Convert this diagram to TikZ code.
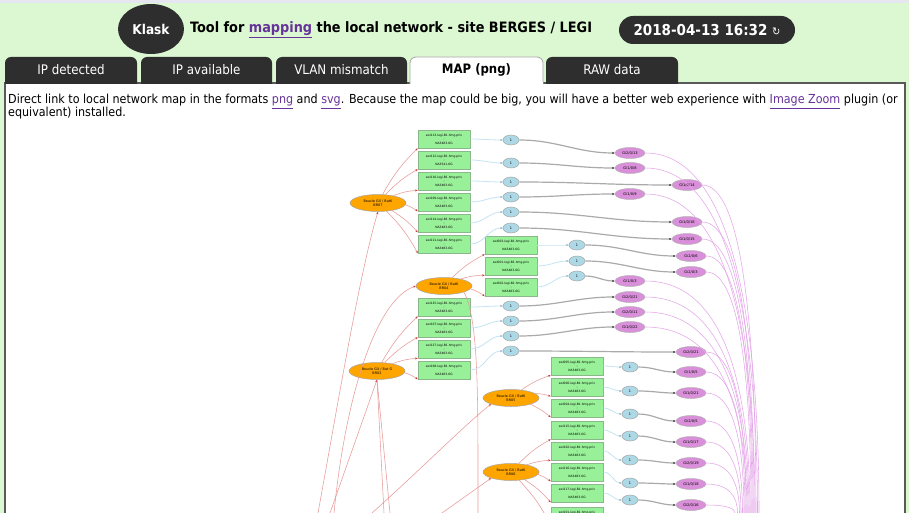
\documentclass[tikz,border=0pt]{standalone}
\usepackage{fontspec}
\setmainfont{DejaVu Sans Condensed}
\newfontfamily\graphfont{DejaVu Sans}
\usetikzlibrary{shapes.geometric,arrows.meta,calc}
\definecolor{hdrgreen}{HTML}{DCF8D2}
\definecolor{topstrip}{HTML}{E6E6F0}
\definecolor{darkbg}{HTML}{2E2E2E}
\definecolor{linkc}{HTML}{663399}
\definecolor{swfill}{HTML}{98F098}
\definecolor{swdraw}{HTML}{8AB88A}
\definecolor{loopfill}{HTML}{FFA500}
\definecolor{onefill}{HTML}{ADD8E6}
\definecolor{portfill}{HTML}{D98FD9}
\definecolor{rededge}{HTML}{E89A9A}
\definecolor{redtip}{HTML}{CC3333}
\definecolor{blueedge}{HTML}{C4E4F2}
\definecolor{grayedge}{HTML}{AAAAAA}
\definecolor{pinkedge}{HTML}{E4A6E8}
\tikzset{
  tabbox/.style={fill=darkbg},
  tablabel/.style={text=white,font=\fontsize{13.2}{15}\selectfont,inner sep=0},
  swbox/.style={rectangle,draw=swdraw,fill=swfill,line width=0.6pt,minimum width=52pt,minimum height=18pt,inner sep=0pt,align=center,font=\graphfont\fontsize{3}{3.9}\selectfont},
  loopnode/.style={ellipse,draw=gray!70,fill=loopfill,line width=0.5pt,minimum width=56pt,minimum height=17pt,inner sep=0pt,align=center,font=\graphfont\fontsize{3.4}{4}\selectfont},
  onenode/.style={ellipse,draw=gray!70,fill=onefill,line width=0.5pt,minimum width=16pt,minimum height=10pt,inner sep=0pt,font=\graphfont\fontsize{3.4}{4}\selectfont},
  portnode/.style={ellipse,draw=gray!60,fill=portfill,line width=0.5pt,minimum width=30pt,minimum height=11pt,inner sep=0pt,font=\graphfont\fontsize{3.6}{4}\selectfont},
  redarrow/.style={draw=rededge,line width=0.55pt,-{Stealth[length=2.6pt,width=2pt,color=redtip]}},
  redline/.style={draw=rededge,line width=0.55pt},
  bluearrow/.style={draw=blueedge,line width=0.8pt,-{Stealth[length=2.6pt,width=2pt,color=onefill!80!black]}},
  grayarrow/.style={draw=grayedge,line width=1.2pt,-{Stealth[length=2.8pt,width=2.4pt,color=black!75]}},
  pinkline/.style={draw=pinkedge,line width=0.55pt},
}
\begin{document}
\begin{tikzpicture}[x=1pt,y=-1pt]
\useasboundingbox (0,0) rectangle (909,513);
% header background
\fill[hdrgreen] (0,0) rectangle (909,513);
\fill[topstrip] (0,0) rectangle (909,3);
% Klask logo
\fill[darkbg] (151,29) ellipse [x radius=33, y radius=25];
\node[text=white,font=\bfseries\fontsize{13.5}{15}\selectfont,inner sep=0] (klask) at (151,29) {Klask};
\node[anchor=west,font=\bfseries\fontsize{14.3}{16}\selectfont,inner sep=0] (title) at (190,30) {Tool for \textcolor{linkc}{\underline{mapping}} the local network - site BERGES / LEGI};
% date
\fill[darkbg,rounded corners=14pt] (619,16) rectangle (795,44);
\node[text=white,font=\bfseries\fontsize{15}{16}\selectfont,inner sep=0] (date) at (707,30) {2018-04-13 16:32 {\mdseries\fontsize{11}{12}\selectfont ↻}};
% content panel
\fill[white] (5,83) rectangle (905,520);
\draw[black!65,line width=1.4pt] (5,520) -- (5,83) -- (905,83) -- (905,520);
% tabs
\fill[tabbox,rounded corners=6pt] (5,84) -- (5,57) -- (137,57) -- (137,84);
\fill[tabbox,rounded corners=6pt] (141,84) -- (141,57) -- (272,57) -- (272,84);
\fill[tabbox,rounded corners=6pt] (276,84) -- (276,57) -- (407,57) -- (407,84);
\filldraw[fill=white,draw=black!35,line width=0.8pt,rounded corners=6pt] (410,84) -- (410,57) -- (543,57) -- (543,84);
\fill[white] (410.5,82) rectangle (542.5,85);
\fill[tabbox,rounded corners=6pt] (546,84) -- (546,57) -- (678,57) -- (678,84);
\node[tablabel] (t1) at (71,70) {IP detected};
\node[tablabel] (t2) at (206.5,70) {IP available};
\node[tablabel] (t3) at (341.5,70) {VLAN mismatch};
\node[tablabel,text=black,font=\bfseries\fontsize{13}{15}\selectfont] (t4) at (476.5,70) {MAP (png)};
\node[tablabel] (t5) at (612,70) {RAW data};
% intro text
\node[anchor=base west,inner sep=0,font=\fontsize{12.4}{14}\selectfont] (line1) at (8,104) {Direct link to local network map in the formats \textcolor{linkc}{\underline{png}} and \textcolor{linkc}{\underline{svg}}. Because the map could be big, you will have a better web experience with \textcolor{linkc}{\underline{Image Zoom}} plugin (or};
\node[anchor=base west,inner sep=0,font=\fontsize{12.4}{14}\selectfont] (line2) at (8,117) {equivalent) installed.};

\begin{scope}
\clip (6,122) rectangle (904,513);
% loops
\node[loopnode] (br07) at (378,203) {Boucle GX / BatK\\BR07};
\node[loopnode] (br04) at (444,286) {Boucle GX / BatK\\BR04};
\node[loopnode] (br02) at (377,371) {Boucle GX / Bat G\\BR02};
\node[loopnode] (br05) at (511,398) {Boucle GX / BatK\\BR05};
\node[loopnode] (br06) at (511,472) {Boucle GX / BatK\\BR06};
% switches column A
\node[swbox] (a1) at (444,139) {swl113-legi-B1.hmg.priv\\:\\NA3483-6G};
\node[swbox] (a2) at (444,160) {swl112-legi-B1.hmg.priv\\:\\NA3541-6G};
\node[swbox] (a3) at (444,181) {swl110-legi-B1.hmg.priv\\:\\NA3483-6G};
\node[swbox] (a4) at (444,202) {swl109-legi-B1.hmg.priv\\:\\NA3483-6G};
\node[swbox] (a5) at (444,223) {swl114-legi-B1.hmg.priv\\:\\NA3483-6G};
\node[swbox] (a6) at (444,244) {swl111-legi-B1.hmg.priv\\:\\NA3483-6G};
\node[swbox] (a7) at (444,307) {swl125-legi-B1.hmg.priv\\:\\NA3483-6G};
\node[swbox] (a8) at (444,328) {swl107-legi-B1.hmg.priv\\:\\NA3483-6G};
\node[swbox] (a9) at (444,349) {swl127-legi-B1.hmg.priv\\:\\NA3483-6G};
\node[swbox] (a10) at (444,370) {swl108-legi-B1.hmg.priv\\:\\NA3483-6G};
% column B
\node[swbox] (b1) at (511,245) {swl003-legi-B1.hmg.priv\\:\\NA3483-6G};
\node[swbox] (b2) at (511,266) {swl001-legi-B1.hmg.priv\\:\\NA3483-6G};
\node[swbox] (b3) at (511,287) {swl002-legi-B1.hmg.priv\\:\\NA3483-6G};
% column C
\node[swbox] (c1) at (577,366) {swl005-legi-B1.hmg.priv\\:\\NA3483-6G};
\node[swbox] (c2) at (577,387) {swl006-legi-B1.hmg.priv\\:\\NA3483-6G};
\node[swbox] (c3) at (577,408) {swl004-legi-B1.hmg.priv\\:\\NA3483-6G};
\node[swbox] (c4) at (577,430) {swl115-legi-B1.hmg.priv\\:\\NA3483-6G};
\node[swbox] (c5) at (577,451) {swl102-legi-B1.hmg.priv\\:\\NA3483-6G};
\node[swbox] (c6) at (577,472) {swl116-legi-B1.hmg.priv\\:\\NA3483-6G};
\node[swbox] (c7) at (577,493) {swl117-legi-B1.hmg.priv\\:\\NA3483-6G};
\node[swbox] (c8) at (577,516) {swl101-legi-B1.hmg.priv\\:\\NA3483-6G};
% "1" nodes
\foreach \n/\x/\y in {o1/511/140,o2/511/163,o3/511/182,o4/511/197,o5/511/212,o6/511/228,
  o7/577/245,o8/577/261,o9/577/276,o10/511/306,o11/511/321,o12/511/336,o13/511/351,
  o14/630/367,o15/630/391,o16/630/414,o17/630/436,o18/630/460,o19/630/483,o20/630/500}
  {\node[onenode] (\n) at (\x,\y) {1};}
% port nodes
\foreach \n/\x/\y/\t in {p1/630/153/Gi2\slash 0\slash 13,p2/630/168/Gi1\slash 0\slash 8,p3/687/185/Gi1\slash 0\slash 14,
  p4/630/194/Gi1\slash 0\slash 9,p5/687/222/Gi1\slash 0\slash 16,p6/687/239/Gi1\slash 0\slash 15,
  p7/691/256/Gi2\slash 0\slash 6,p8/691/272/Gi2\slash 0\slash 3,p9/630/281/Gi1\slash 0\slash 3,
  p10/630/297/Gi2\slash 0\slash 21,p11/630/312/Gi2\slash 0\slash 11,p12/630/327/Gi1\slash 0\slash 22,
  p13/691/352/Gi2\slash 0\slash 21,p14/691/372/Gi1\slash 0\slash 5,p15/691/393/Gi1\slash 0\slash 21,
  p16/691/421/Gi2\slash 0\slash 5,p17/691/442/Gi1\slash 0\slash 17,p18/691/463/Gi2\slash 0\slash 19,
  p19/691/484/Gi1\slash 0\slash 18,p20/691/505/Gi2\slash 0\slash 16}
  {\node[portnode] (\n) at (\x,\y) {\t};}
% red edges loop -> switch
\foreach \s/\t in {br07/a1,br07/a2,br07/a3,br07/a4,br07/a5,br07/a6,br04/b1,br04/b2,br04/b3,
  br02/a7,br02/a8,br02/a9,br02/a10,br05/c1,br05/c2,br05/c3,br06/c4,br06/c5,br06/c6,br06/c7,br06/c8}
  {\draw[redarrow] (\s) to[bend left=8] (\t.south west);}
% long red edges
\coordinate (e1) at (318,513);
\coordinate (e2) at (330,513);
\coordinate (e3) at (334,513);
\coordinate (e4) at (478,513);
\coordinate (e5) at (384,513);
\coordinate (e6) at (390,513);
\coordinate (e7) at (372,513);
\coordinate (e8) at (442,513);
\draw[redarrow] (e1) .. controls (335,420) and (360,270) .. (br07.south);
\draw[redarrow] (e2) -- (br02.south);
\draw[redarrow] (e3) .. controls (345,400) and (375,300) .. (br04.west);
\draw[redline] (br04.south east) .. controls (479,320) and (478,400) .. (e4);
\draw[redline] (br02.south) -- (e5);
\draw[redline] (br02.south) -- (e6);
\draw[redarrow] (e7) .. controls (420,470) and (470,420) .. (br05.south west);
\draw[redarrow] (e8) -- (br06.south west);
% blue edges switch -> 1
\foreach \s/\t in {a1/o1,a2/o2,a3/o3,a4/o4,a5/o5,a6/o6,b1/o7,b2/o8,b3/o9,a7/o10,a8/o11,a9/o12,a10/o13,
  c1/o14,c2/o15,c3/o16,c4/o17,c5/o18,c6/o19,c7/o20}
  {\draw[bluearrow] (\s.east) to[out=0,in=180] (\t.west);}
% gray edges 1 -> port
\foreach \i in {1,...,20}
  {\draw[grayarrow] (o\i.east) to[out=0,in=180] (p\i.west);}
% pink edges port -> off-map
\foreach \p/\ex [count=\i] in {p1/759,p2/757.5,p3/756,p4/755,p5/754,p6/753,p7/752,p8/751,p9/750,p10/749,
  p11/748,p12/747,p13/746,p14/745,p15/744,p16/742.5,p17/741,p18/739.5,p19/737.5,p20/735}
  {\coordinate (end\i) at (\ex,513);
   \draw[pinkline] (\p.east) .. controls ($(\p.east)!0.75!(end\i |- \p.east)$) and ($(end\i)!0.55!(end\i |- \p.east)$) .. (end\i);}
\end{scope}
\end{tikzpicture}
\end{document}
